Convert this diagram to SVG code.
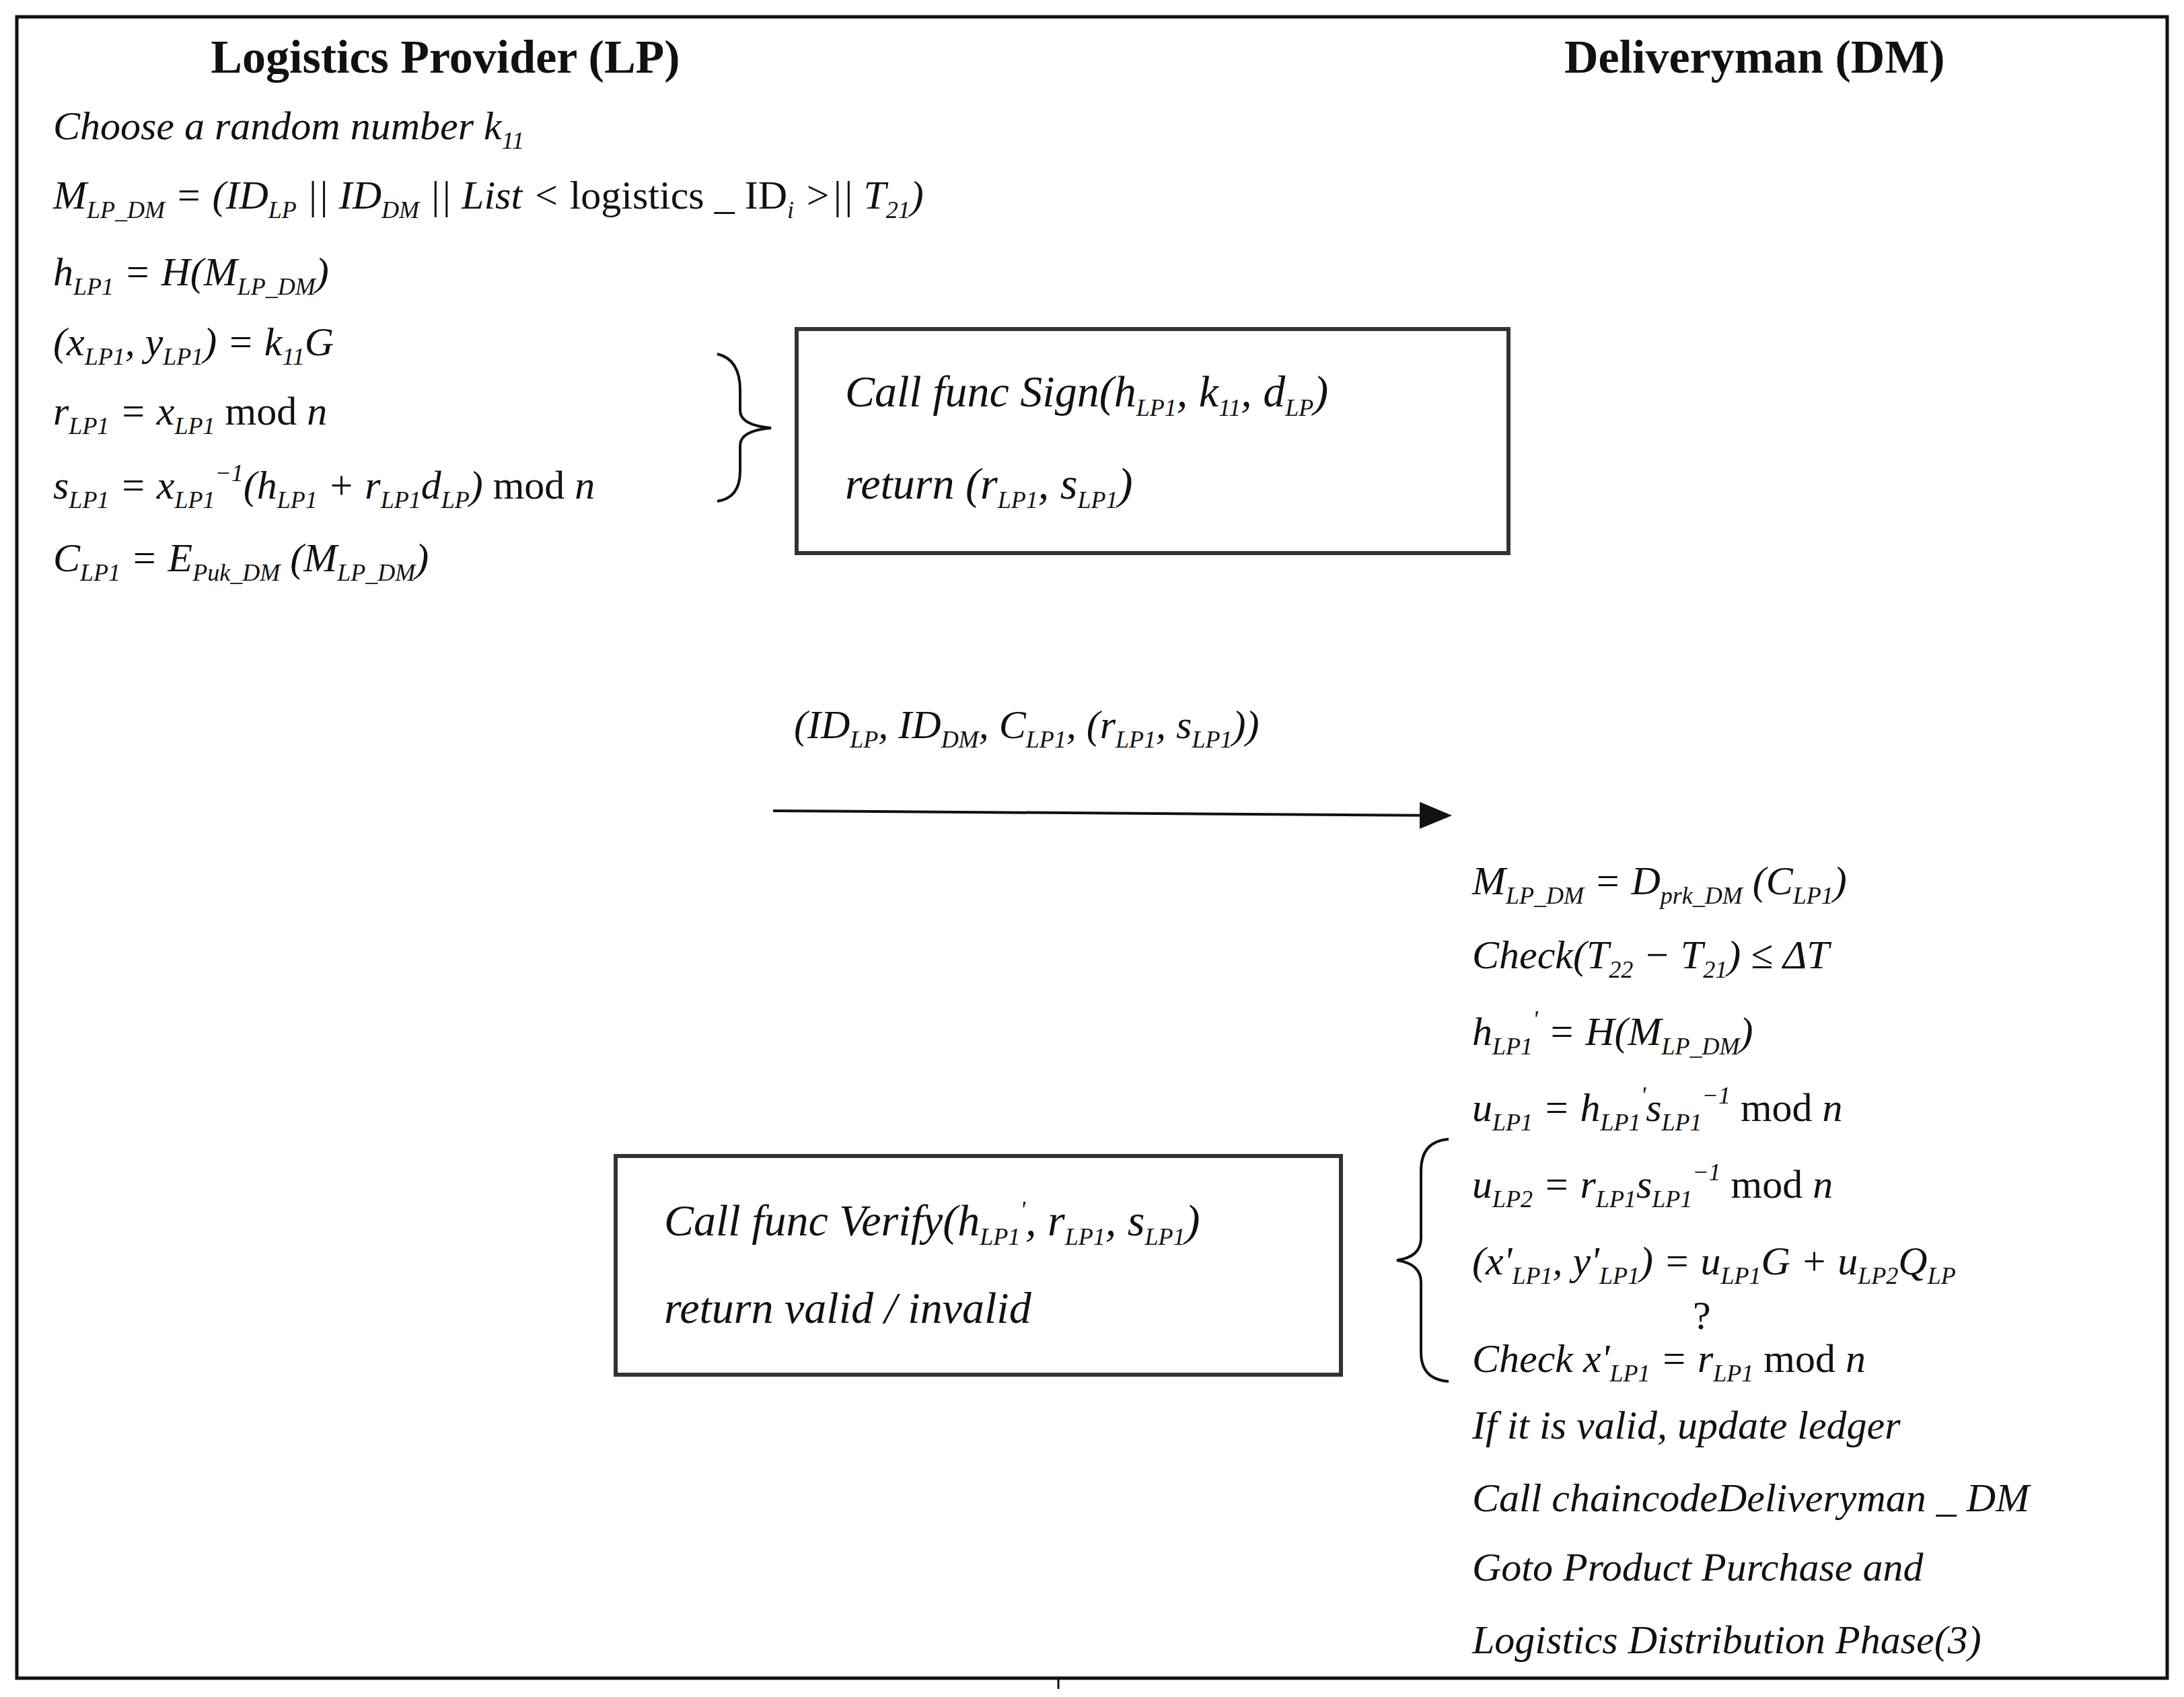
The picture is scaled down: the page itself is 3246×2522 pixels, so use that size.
<svg xmlns="http://www.w3.org/2000/svg" width="3246" height="2522" viewBox="0 0 3246 2522">
<style>
.t{font-family:"Liberation Serif",serif;font-size:60px;fill:#111}
.i{font-style:italic}
.h{font-family:"Liberation Serif",serif;font-size:70px;font-weight:bold;fill:#111}
.b{font-size:66px}
.s{font-size:36px;baseline-shift:-14px}
.p{font-size:36px;baseline-shift:26px}
.box{fill:#fff;stroke:#333;stroke-width:6}
.ln{fill:none;stroke:#111;stroke-width:4}
</style>
<defs><marker id="ah" markerWidth="12" markerHeight="10" refX="10" refY="5" orient="auto" markerUnits="strokeWidth"><path d="M0,0 L12,5 L0,10 Z" fill="#111"/></marker></defs>
<rect x="25" y="25" width="3196" height="2469" fill="#fff" stroke="#111" stroke-width="5"/>
<line x1="1573" y1="2494" x2="1573" y2="2510" stroke="#111" stroke-width="3"/>
<g id="LP">
<text class="h" x="662" y="108" text-anchor="middle">Logistics Provider (LP)</text>
<text class="t i" x="79" y="207">Choose a random number k<tspan class="s">11</tspan></text>
<text class="t i" x="79" y="310">M<tspan class="s">LP_DM</tspan> = (ID<tspan class="s">LP</tspan> || ID<tspan class="s">DM</tspan> || List &lt; <tspan font-style="normal">logistics _ ID</tspan><tspan class="s">i</tspan> &gt;|| T<tspan class="s">21</tspan>)</text>
<text class="t i" x="79" y="424">h<tspan class="s">LP1</tspan> = H(M<tspan class="s">LP_DM</tspan>)</text>
<text class="t i" x="79" y="528">(x<tspan class="s">LP1</tspan>, y<tspan class="s">LP1</tspan>) = k<tspan class="s">11</tspan>G</text>
<text class="t i" x="79" y="631">r<tspan class="s">LP1</tspan> = x<tspan class="s">LP1</tspan> <tspan font-style="normal">mod</tspan> n</text>
<text class="t i" x="79" y="741">s<tspan class="s">LP1</tspan> = x<tspan class="s">LP1</tspan><tspan class="p">−1</tspan>(h<tspan class="s">LP1</tspan> + r<tspan class="s">LP1</tspan>d<tspan class="s">LP</tspan>) <tspan font-style="normal">mod</tspan> n</text>
<text class="t i" x="79" y="849">C<tspan class="s">LP1</tspan> = E<tspan class="s">Puk_DM</tspan> (M<tspan class="s">LP_DM</tspan>)</text>
</g>
<g id="sign">
<rect class="box" x="1184" y="489" width="1058" height="333"/>
<text class="t i b" x="1256" y="604">Call func Sign(h<tspan class="s">LP1</tspan>, k<tspan class="s">11</tspan>, d<tspan class="s">LP</tspan>)</text>
<text class="t i b" x="1256" y="741">return (r<tspan class="s">LP1</tspan>, s<tspan class="s">LP1</tspan>)</text>
</g>
<g id="DM">
<text class="h" x="2325" y="108">Deliveryman (DM)</text>
<text class="t i" x="2188" y="1329">M<tspan class="s">LP_DM</tspan> = D<tspan class="s">prk_DM</tspan> (C<tspan class="s">LP1</tspan>)</text>
<text class="t i" x="2188" y="1439">Check(T<tspan class="s">22</tspan> − T<tspan class="s">21</tspan>) ≤ ΔT</text>
<text class="t i" x="2188" y="1553">h<tspan class="s">LP1</tspan><tspan class="p">'</tspan> = H(M<tspan class="s">LP_DM</tspan>)</text>
<text class="t i" x="2188" y="1666">u<tspan class="s">LP1</tspan> = h<tspan class="s">LP1</tspan><tspan class="p">'</tspan>s<tspan class="s">LP1</tspan><tspan class="p">−1</tspan> <tspan font-style="normal">mod</tspan> n</text>
<text class="t i" x="2188" y="1780">u<tspan class="s">LP2</tspan> = r<tspan class="s">LP1</tspan>s<tspan class="s">LP1</tspan><tspan class="p">−1</tspan> <tspan font-style="normal">mod</tspan> n</text>
<text class="t i" x="2188" y="1894">(x'<tspan class="s">LP1</tspan>, y'<tspan class="s">LP1</tspan>) = u<tspan class="s">LP1</tspan>G + u<tspan class="s">LP2</tspan>Q<tspan class="s">LP</tspan></text>
<text class="t" x="2516" y="1975" font-size="28">?</text>
<text class="t i" x="2188" y="2039">Check x'<tspan class="s">LP1</tspan> = r<tspan class="s">LP1</tspan> <tspan font-style="normal">mod</tspan> n</text>
<text class="t i" x="2188" y="2138">If it is valid, update ledger</text>
<text class="t i" x="2188" y="2246">Call chaincodeDeliveryman _ DM</text>
<text class="t i" x="2188" y="2349">Goto Product Purchase and</text>
<text class="t i" x="2188" y="2457">Logistics Distribution Phase(3)</text>
</g>
<g id="verify">
<rect class="box" x="915" y="1718" width="1078" height="325"/>
<text class="t i b" x="987" y="1836">Call func Verify(h<tspan class="s">LP1</tspan><tspan class="p">'</tspan>, r<tspan class="s">LP1</tspan>, s<tspan class="s">LP1</tspan>)</text>
<text class="t i b" x="987" y="1966">return valid / invalid</text>
</g>
<g id="connectors">
<path class="ln" d="M1066,526 Q1100,534 1100,580 L1100,610 Q1100,632 1146,636 Q1100,640 1100,662 L1100,700 Q1100,740 1066,745"/>
<path class="ln" d="M2153,1693 Q2112,1696 2112,1740 L2112,1840 Q2112,1868 2076,1873 Q2112,1878 2112,1906 L2112,2010 Q2112,2050 2153,2053"/>
<line x1="1149" y1="1205" x2="2150" y2="1212" stroke="#111" stroke-width="4" marker-end="url(#ah)"/>
<text class="t i" x="1180" y="1097" font-size="64">(ID<tspan class="s">LP</tspan>, ID<tspan class="s">DM</tspan>, C<tspan class="s">LP1</tspan>, (r<tspan class="s">LP1</tspan>, s<tspan class="s">LP1</tspan>))</text>
</g>
</svg>
